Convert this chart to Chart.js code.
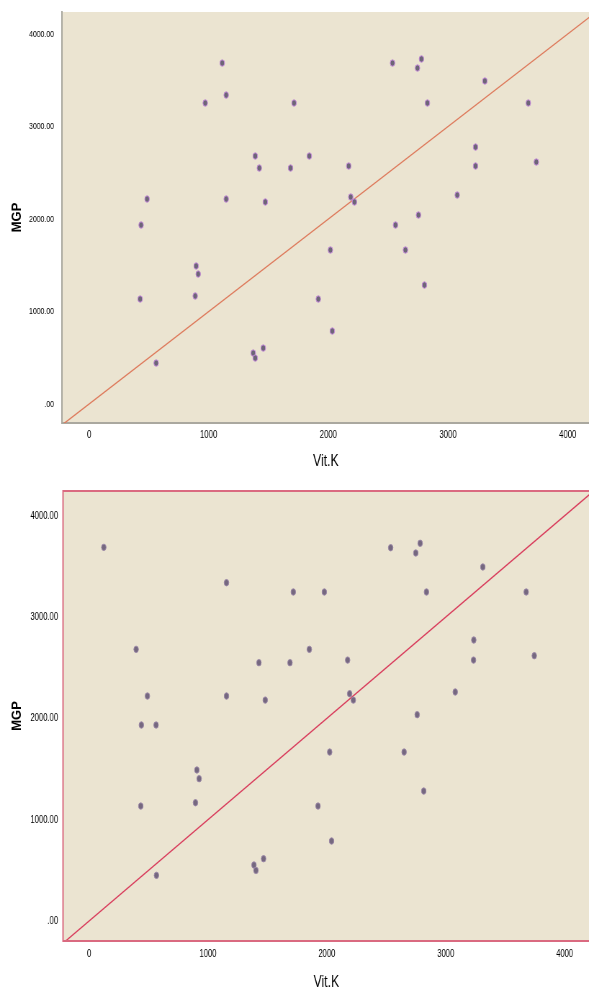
<!DOCTYPE html>
<html>
<head>
<meta charset="utf-8">
<script src="https://cdn.jsdelivr.net/npm/chart.js@4.4.1/dist/chart.umd.min.js"></script>
<style>
  html, body { margin: 0; padding: 0; background: #fff; overflow: hidden; }
  /* the reference looks squeezed sideways, so draw wider and compress */
  .box { position: absolute; left: 0; width: 819px; transform: scaleX(0.72); transform-origin: 0 0; }
  #topBox { top: 0; height: 480px; }
  #bottomBox { top: 480px; height: 511px; }
</style>
</head>
<body>
<div class="box" id="topBox"><canvas id="topChart"></canvas></div>
<div class="box" id="bottomBox"><canvas id="bottomChart"></canvas></div>
<script>
const squeeze = 0.72;

// tick values and the y = x reference line
const xTicks = [0, 1000, 2000, 3000, 4000];
const yTicks = [0, 1000, 2000, 3000, 4000];
const diagonal = [-300, 4400];

// upper scatter
const topVitK = [1113, 1146, 971, 1713, 1389, 1423, 1684, 1841, 485, 1146,
  1473, 435, 895, 912, 887, 427, 561, 1372, 1389, 1456,
  2170, 2187, 2218, 2017, 1916, 2033, 2536, 2778, 2745, 2828,
  3308, 3671, 3230, 3230, 3738, 3077, 2561, 2753, 2644, 2803];
const topMGP = [3686, 3340, 3254, 3254, 2681, 2551, 2551, 2681, 2216, 2216,
  2184, 1935, 1492, 1405, 1168, 1135, 443, 551, 497, 605,
  2573, 2238, 2184, 1665, 1135, 789, 3686, 3730, 3632, 3254,
  3492, 3254, 2778, 2573, 2616, 2259, 1935, 2043, 1665, 1286];

// lower scatter
const bottomVitK = [124, 1156, 1718, 396, 1429, 1690, 491, 1156, 1482, 440,
  564, 2537, 2785, 2748, 3312, 1979, 2838, 3677, 1853, 3236,
  2175, 3234, 3745, 2192, 2223, 3080, 2760, 907, 926, 895,
  435, 567, 1387, 1404, 1468, 2024, 2650, 2815, 1926, 2040];
const bottomMGP = [3689, 3340, 3248, 2682, 2550, 2550, 2221, 2221, 2181, 1935,
  1935, 3685, 3729, 3633, 3495, 3248, 3248, 3248, 2682, 2774,
  2576, 2576, 2619, 2244, 2181, 2261, 2037, 1491, 1405, 1168,
  1135, 451, 553, 500, 615, 1668, 1668, 1283, 1135, 790];

const sans = "'Liberation Sans', Arial, sans-serif";

const plotBackground = {
  id: 'plotBackground',
  beforeDraw(chart, args, opts) {
    const { ctx, chartArea: a } = chart;
    ctx.save();
    ctx.fillStyle = opts.color;
    ctx.fillRect(a.left, a.top, a.width, a.height);
    ctx.restore();
  },
  afterDraw(chart, args, opts) {
    const { ctx, chartArea: a } = chart;
    ctx.save();
    if (opts.frame) {
      ctx.strokeStyle = opts.frame;
      ctx.lineWidth = 2;
      ctx.beginPath();
      ctx.moveTo(chart.width, a.top);
      ctx.lineTo(a.left, a.top);
      ctx.lineTo(a.left, a.bottom);
      ctx.lineTo(chart.width, a.bottom);
      ctx.stroke();
    }
    // y title, un-squeezed so it keeps its real proportions
    ctx.translate(opts.titleX / squeeze, (a.top + a.bottom) / 2);
    ctx.scale(1 / squeeze, 1);
    ctx.rotate(-Math.PI / 2);
    ctx.font = 'bold 13px ' + sans;
    ctx.fillStyle = '#000';
    ctx.textAlign = 'center';
    ctx.textBaseline = 'middle';
    ctx.fillText('MGP', 0, 0);
    ctx.restore();
  }
};

function buildChart(id, cfg) {
  const points = cfg.vitK.map((v, i) => ({ x: v, y: cfg.mgp[i] }));
  const line = diagonal.map(v => ({ x: v, y: v }));

  return new Chart(document.getElementById(id), {
    type: 'scatter',
    data: {
      datasets: [{
        data: points,
        backgroundColor: cfg.dotFill,
        borderColor: cfg.dotEdge,
        borderWidth: 1,
        pointRadius: 3.2,
        order: 1
      }, {
        data: line,
        showLine: true,
        borderColor: cfg.lineColor,
        borderWidth: 1.4,
        pointRadius: 0,
        clip: 0,
        order: 2
      }]
    },
    plugins: [plotBackground],
    options: {
      responsive: true,
      maintainAspectRatio: false,
      animation: false,
      layout: { autoPadding: false, padding: { top: cfg.padTop, right: 0, bottom: 0, left: 0 } },
      plugins: {
        legend: { display: false },
        tooltip: { enabled: false },
        plotBackground: { color: '#EBE4D1', frame: cfg.frame, titleX: 17 }
      },
      scales: {
        x: {
          type: 'linear',
          min: cfg.xMin,
          max: cfg.xMax,
          afterBuildTicks: scale => { scale.ticks = xTicks.map(v => ({ value: v })); },
          afterFit: scale => {
            scale.height = cfg.xAxisHeight;
            scale.paddingLeft = 0;
            scale.paddingRight = 0;
          },
          grid: { display: false, drawTicks: false },
          border: { display: !cfg.frame, color: '#AAA89F', width: 2 },
          ticks: {
            padding: cfg.xTickPad,
            color: '#000',
            maxRotation: 0,
            font: { family: sans, size: cfg.xTickSize },
            callback: v => String(v)
          },
          title: {
            display: true,
            text: 'Vit.K',
            color: '#000',
            padding: { top: 0, bottom: cfg.xTitlePad },
            font: { family: sans, size: 17, lineHeight: 1 }
          }
        },
        y: {
          type: 'linear',
          min: cfg.yMin,
          max: cfg.yMax,
          afterBuildTicks: scale => { scale.ticks = yTicks.map(v => ({ value: v })); },
          afterFit: scale => {
            scale.width = cfg.yAxisWidth / squeeze;
            scale.paddingTop = 0;
            scale.paddingBottom = 0;
          },
          grid: { display: false, drawTicks: false },
          border: { display: !cfg.frame, color: '#AAA89F', width: 2 },
          ticks: {
            padding: cfg.yTickPad / squeeze,
            color: '#000',
            font: { family: sans, size: cfg.yTickSize },
            callback: v => (v === 0 ? '.00' : v.toFixed(2))
          },
          title: { display: false }
        }
      }
    }
  });
}

buildChart('topChart', {
  vitK: topVitK, mgp: topMGP,
  xMin: -226, xMax: 4184, yMin: -205, yMax: 4238,
  padTop: 12, xAxisHeight: 57, yAxisWidth: 62,
  xTickPad: 6, yTickPad: 8, xTitlePad: 10, xTickSize: 10.8, yTickSize: 9.6,
  dotFill: '#6D6577', dotEdge: '#C68ADC', lineColor: '#DE7A5C', frame: null
});

buildChart('bottomChart', {
  vitK: bottomVitK, mgp: bottomMGP,
  xMin: -219, xMax: 4211, yMin: -197, yMax: 4245,
  padTop: 11, xAxisHeight: 50, yAxisWidth: 63,
  xTickPad: 7, yTickPad: 5, xTitlePad: 0, xTickSize: 10.6, yTickSize: 10.6,
  dotFill: '#75687F', dotEdge: '#9C88A8', lineColor: '#D93C5C', frame: '#DA6A80'
});
</script>
</body>
</html>
